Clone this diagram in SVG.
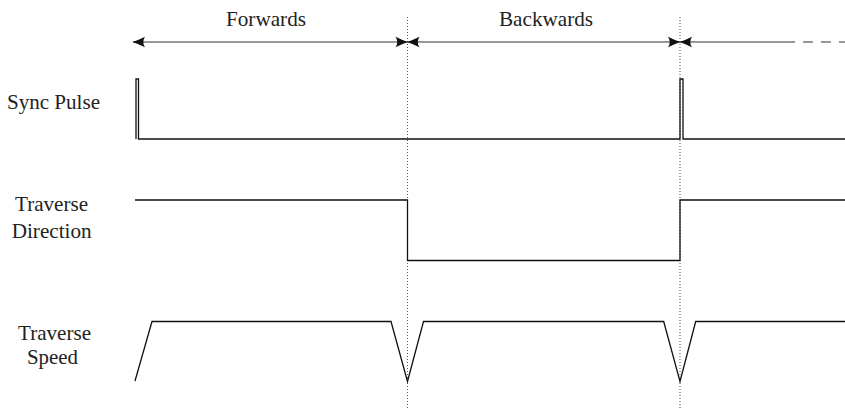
<svg xmlns="http://www.w3.org/2000/svg" width="845" height="410" viewBox="0 0 845 410">
<style>
.lbl{font-family:"Liberation Serif","Times New Roman",serif;font-size:21px;fill:#222;}
.sig{fill:none;stroke:#111;stroke-width:1.3;stroke-linejoin:miter;}
.dot{fill:none;stroke:#555;stroke-width:1;stroke-dasharray:1 2;}
.arr{fill:none;stroke:#333;stroke-width:1.2;}
</style>
<defs>
<marker id="ah" viewBox="-13 -6 14 12" refX="0" refY="0" markerWidth="14" markerHeight="12" markerUnits="userSpaceOnUse" orient="auto-start-reverse">
<path d="M0.5,0 Q-5,-1.8 -12,-5.3 Q-8.5,0 -12,5.3 Q-5,1.8 0.5,0Z" fill="#111"/>
</marker>
</defs>
<rect width="845" height="410" fill="#fff"/>
<g id="guides">
<line class="dot" x1="407.5" y1="17" x2="407.5" y2="410"/>
<line class="dot" x1="680" y1="17" x2="680" y2="410"/>
</g>
<g id="connectors">
<line class="arr" x1="133" y1="42" x2="407.5" y2="42" marker-start="url(#ah)" marker-end="url(#ah)"/>
<line class="arr" x1="407.5" y1="42" x2="680" y2="42" marker-start="url(#ah)" marker-end="url(#ah)"/>
<line class="arr" x1="680" y1="42" x2="795" y2="42" marker-start="url(#ah)"/>
<line class="arr" x1="803" y1="42" x2="845" y2="42" stroke-dasharray="10 8"/>
</g>
<g id="phase-labels">
<text class="lbl" x="266" y="25.5" text-anchor="middle" textLength="80" lengthAdjust="spacingAndGlyphs">Forwards</text>
<text class="lbl" x="546" y="25.5" text-anchor="middle" textLength="94" lengthAdjust="spacingAndGlyphs">Backwards</text>
</g>
<g id="sync-pulse">
<text class="lbl" x="7" y="109" textLength="93" lengthAdjust="spacingAndGlyphs">Sync Pulse</text>
<path class="sig" d="M136,139 V79 H138.5 V139 H680 V79 H683 V139 H845"/>
</g>
<g id="traverse-direction">
<text class="lbl" x="51.5" y="210.7" text-anchor="middle" textLength="73" lengthAdjust="spacingAndGlyphs">Traverse</text>
<text class="lbl" x="51.7" y="238.3" text-anchor="middle" textLength="80" lengthAdjust="spacingAndGlyphs">Direction</text>
<path class="sig" d="M135,200 H407.5 V260.5 H680 V200 H845"/>
</g>
<g id="traverse-speed">
<text class="lbl" x="54.5" y="340" text-anchor="middle" textLength="73" lengthAdjust="spacingAndGlyphs">Traverse</text>
<text class="lbl" x="52.5" y="363.5" text-anchor="middle" textLength="51" lengthAdjust="spacingAndGlyphs">Speed</text>
<polyline class="sig" points="135,381 152,321.5 391,321.5 407.5,381.5 423.5,321.5 663.7,321.5 680,381.5 695.7,321.5 845,321.5"/>
</g>
</svg>
